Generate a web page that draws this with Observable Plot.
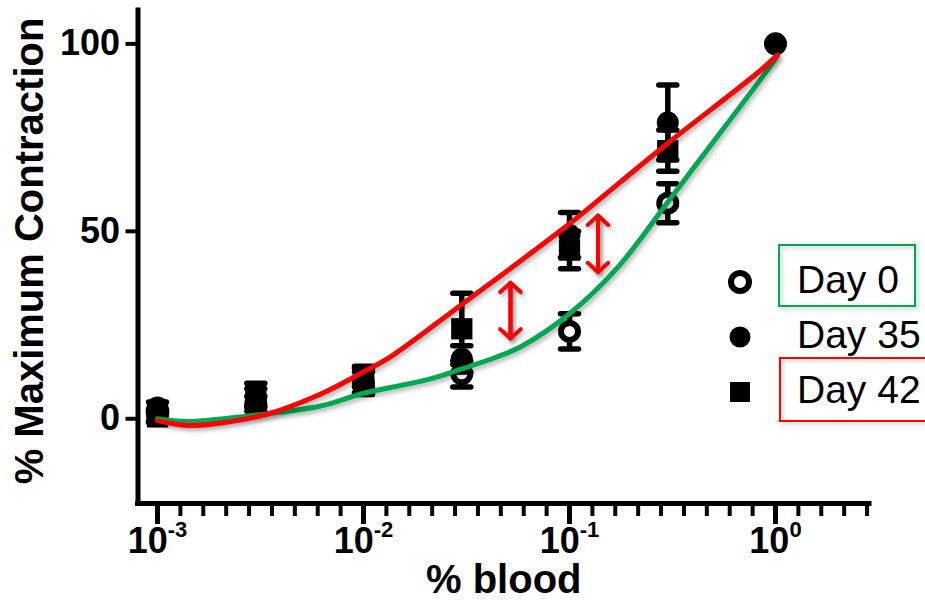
<!DOCTYPE html>
<html><head><meta charset="utf-8">
<script src="https://cdn.jsdelivr.net/npm/d3@7"></script>
<script src="https://cdn.jsdelivr.net/npm/@observablehq/plot@0.6"></script>
<style>
html,body{margin:0;padding:0;background:#fff;}
#chart{position:relative;width:925px;height:600px;overflow:hidden;}
</style></head><body><div id="chart"></div>
<script>
// ---------- data ----------
const doses = [0.001, 0.003, 0.01, 0.03, 0.1, 0.3, 1];
const seriesNames = ["Day 0", "Day 35", "Day 42"];
const day0Mean  = [1, 4, 9.5, 12, 23.3, 57.5, 100];
const day0Err   = [1.5, 2, 3, 3.5, 4.7, 5.2, 0];
const day35Mean = [3, 5.5, 11, 16, 49, 79, 100];
const day35Err  = [1.5, 2.5, 2.5, 3.5, 6, 10, 0];
const day42Mean = [0.5, 6.5, 10.5, 24, 45, 71.5, null];
const day42Err  = [1.5, 3, 3.5, 9.5, 5, 5.5, null];

// fitted curves
const greenFitX = [0.001, 0.0014, 0.0029, 0.0062, 0.01, 0.02, 0.03, 0.044, 0.058, 0.1, 0.171, 0.3, 0.433, 0.914, 1.02];
const greenFitY = [0, -0.7, 0.9, 3.4, 6.8, 10.3, 13.3, 16.4, 19.2, 28, 40.3, 57.8, 69.4, 93, 96.8];
const redFitX = [0.001, 0.0014, 0.002, 0.0035, 0.0062, 0.01, 0.0135, 0.03, 0.1, 0.177, 0.3, 0.845, 1.02];
const redFitY = [-0.5, -1.8, -1.2, 1.4, 6.6, 12.5, 16.5, 30.5, 52, 63.2, 73.5, 92.9, 97];

// double-headed red arrows
const arrowX  = [0.0517, 0.1375];
const arrowLo = [21.4, 39.1];
const arrowHi = [36.3, 54.2];

// axes
const xDomain = [0.000804, 2.86];
const yDomain = [-22.6, 108.9];
const yTicks = [0, 50, 100];
const xMajorTicks = [0.001, 0.01, 0.1, 1];
const xMinorTicks = d3.range(1, 32).filter(k => k % 9 !== 0).map(k => Math.pow(10, -3 + k / 9));

// ---------- build ----------
const FONT = "'Liberation Sans', Arial, Helvetica, sans-serif";
const GREEN = "#00a84f", RED = "#ff0000";
const rows = (m, e) => doses.map((d, i) => ({dose: d, mean: m[i], err: e[i]})).filter(r => r.mean != null);
const d0 = rows(day0Mean, day0Err), d35 = rows(day35Mean, day35Err), d42 = rows(day42Mean, day42Err);
const greenFit = greenFitX.map((x, i) => ({x, y: greenFitY[i]}));
const redFit = redFitX.map((x, i) => ({x, y: redFitY[i]}));
const arrows = arrowX.map((x, i) => ({x, lo: arrowLo[i], hi: arrowHi[i]}));

const capSymbol = {draw(ctx, size) { const w = Math.sqrt(size / Math.PI); ctx.moveTo(-w, 0); ctx.lineTo(w, 0); }};

function errMarks(data) {
  const d = data.filter(r => r.err > 0);
  return [
    Plot.ruleX(d, {x: "dose", y1: r => r.mean - r.err, y2: r => r.mean + r.err, stroke: "black", strokeWidth: 5.5}),
    Plot.dot(d, {x: "dose", y: r => r.mean + r.err, symbol: capSymbol, r: 9, stroke: "black", strokeWidth: 5.5, strokeLinecap: "round"}),
    Plot.dot(d, {x: "dose", y: r => r.mean - r.err, symbol: capSymbol, r: 9, stroke: "black", strokeWidth: 5.5, strokeLinecap: "round"})
  ];
}

const chart = Plot.plot({
  width: 925, height: 600,
  marginLeft: 137.5, marginRight: 56, marginTop: 10, marginBottom: 97,
  x: {type: "log", domain: xDomain, label: null},
  y: {domain: yDomain, label: null},
  style: {fontFamily: FONT, fontSize: "36px", fontWeight: "bold", color: "black", background: "white"},
  marks: [
    // Day 0
    ...errMarks(d0),
    Plot.dot(d0, {x: "dose", y: "mean", r: 8.5, stroke: "black", strokeWidth: 6, fill: "white"}),
    // Day 35
    ...errMarks(d35),
    Plot.dot(d35, {x: "dose", y: "mean", r: 11, fill: "black"}),
    // Day 42
    ...errMarks(d42),
    Plot.dot(d42, {x: "dose", y: "mean", symbol: "square", r: 12, fill: "black"}),
    // fits
    Plot.line(greenFit, {x: "x", y: "y", stroke: GREEN, strokeWidth: 5, curve: "catmull-rom"}),
    Plot.line(redFit, {x: "x", y: "y", stroke: RED, strokeWidth: 5, curve: "catmull-rom"}),
    // arrows
    Plot.arrow(arrows, {x: "x", y1: "lo", y2: "hi", stroke: RED, strokeWidth: 4, headAngle: 95, headLength: 5.2, strokeLinecap: "round", strokeLinejoin: "round"}),
    Plot.arrow(arrows, {x: "x", y1: "hi", y2: "lo", stroke: RED, strokeWidth: 4, headAngle: 95, headLength: 5.2, strokeLinecap: "round", strokeLinejoin: "round"}),
    // axis lines
    Plot.ruleX([xDomain[0]], {stroke: "black", strokeWidth: 5, strokeLinecap: "square"}),
    Plot.ruleY([yDomain[0]], {stroke: "black", strokeWidth: 5, strokeLinecap: "square"}),
    // axes
    Plot.axisY({ticks: yTicks, tickSize: 12, tickPadding: 6, strokeWidth: 4, label: null}),
    Plot.axisX({ticks: xMajorTicks, tickSize: 21, tickPadding: 3, strokeWidth: 5, label: null,
                tickFormat: d => String(Math.round(Math.log10(d)))}),
    Plot.axisX({ticks: xMinorTicks, tickSize: 13, strokeWidth: 4, label: null, tickFormat: () => ""}),
    // titles
    Plot.text(["% Maximum Contraction"], {text: d => d, frameAnchor: "left", textAnchor: "middle", dx: -107.5, dy: -6, rotate: -90, fontSize: 40, fontWeight: "bold", lineAnchor: "middle"}),
    Plot.text(["% blood"], {text: d => d, frameAnchor: "bottom", textAnchor: "middle", dy: 77, fontSize: 40, fontWeight: "bold", lineAnchor: "middle"})
  ]
});

document.getElementById("chart").appendChild(chart);
const svg = d3.select(chart);

// superscript exponents on x tick labels
svg.selectAll('g[aria-label="x-axis tick label"] text').each(function () {
  const t = d3.select(this);
  const e = t.text();
  if (!e) return;
  t.text("");
  t.append("tspan").text("10");
  t.append("tspan").attr("dy", -16).attr("font-size", 22).text(e);
});

// soft shadows like the reference
svg.selectAll('g[aria-label="line"], g[aria-label="arrow"]').style("filter", "drop-shadow(2px 3px 2px rgba(0,0,0,0.28))");

// legend
const lg = svg.append("g").attr("font-family", FONT).attr("font-weight", "normal").attr("font-size", 39).attr("text-anchor", "start");
const rowY = i => 282 + 55 * i;
lg.append("rect").attr("x", 779).attr("y", 245).attr("width", 136).attr("height", 61)
  .attr("fill", "none").attr("stroke", GREEN).attr("stroke-width", 2).style("filter", "drop-shadow(2px 2px 2px rgba(0,0,0,0.25))");
lg.append("rect").attr("x", 780).attr("y", 358).attr("width", 160).attr("height", 63)
  .attr("fill", "none").attr("stroke", RED).attr("stroke-width", 2).style("filter", "drop-shadow(2px 2px 2px rgba(0,0,0,0.25))");
lg.append("circle").attr("cx", 740).attr("cy", rowY(0)).attr("r", 9).attr("fill", "white").attr("stroke", "black").attr("stroke-width", 6);
lg.append("circle").attr("cx", 740).attr("cy", rowY(1)).attr("r", 10.5).attr("fill", "black");
lg.append("rect").attr("x", 730).attr("y", rowY(2) - 10).attr("width", 20).attr("height", 20).attr("fill", "black");
seriesNames.forEach((name, i) => {
  lg.append("text").attr("x", 797).attr("y", rowY(i) + 11).attr("fill", "black").attr("text-anchor", "start").text(name);
});
</script>
</body></html>
